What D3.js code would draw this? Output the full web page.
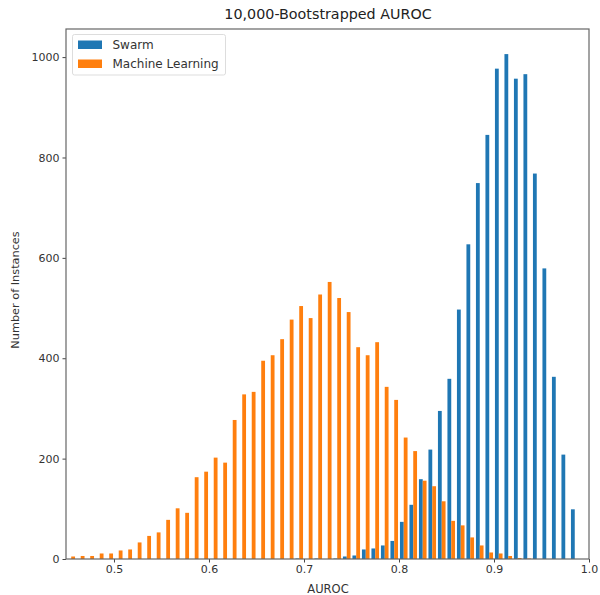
<!DOCTYPE html>
<html>
<head>
<meta charset="utf-8">
<script src="https://cdn.jsdelivr.net/npm/d3@7"></script>
<style>
  html, body { margin: 0; padding: 0; background: #fff; }
  svg { display: block; font-family: "DejaVu Sans", sans-serif; }
</style>
</head>
<body>
<svg id="chart" width="600" height="595"></svg>
<script>
// Bin left edges (AUROC), bin width 0.01
const binStarts = [0.45,0.46,0.47,0.48,0.49,0.50,0.51,0.52,0.53,0.54,0.55,0.56,0.57,0.58,0.59,
  0.60,0.61,0.62,0.63,0.64,0.65,0.66,0.67,0.68,0.69,0.70,0.71,0.72,0.73,0.74,0.75,0.76,0.77,0.78,0.79,
  0.80,0.81,0.82,0.83,0.84,0.85,0.86,0.87,0.88,0.89,0.90,0.91,0.92,0.93,0.94,0.95,0.96,0.97,0.98];
const binWidth = 0.01;
const swarmCounts = [0,0,0,0,0,0,0,0,0,0,0,0,0,0,0,
  0,0,0,0,0,0,0,0,0,1,0,1,0,1,5,7,19,21,27,36,
  74,108,159,218,295,359,497,627,749,845,977,1006,957,966,768,579,363,208,99];
const mlCounts = [5,6,6,11,11,17,19,33,46,53,78,101,92,163,174,
  202,192,277,328,333,395,406,438,477,504,480,527,552,520,492,422,406,432,343,317,
  242,215,156,145,115,76,67,43,27,13,11,6,2,1,0,0,0,0,0];
const seriesNames = ["Swarm", "Machine Learning"];
const seriesColors = ["#1f77b4", "#ff7f0e"];
const xTicks = [0.5, 0.6, 0.7, 0.8, 0.9, 1.0];
const yTicks = [0, 200, 400, 600, 800, 1000];

const svg = d3.select("#chart");
const L = 66, R = 589, T = 29, B = 559;
const x = d3.scaleLinear().domain([0.4495, 1.0]).range([L, R]);
const y = d3.scaleLinear().domain([0, 1056]).range([B, T]);

const series = [swarmCounts, mlCounts];
series.forEach((counts, si) => {
  svg.append("g").selectAll("rect")
    .data(binStarts.map((b, i) => ({b, v: counts[i]})).filter(d => d.v > 0))
    .join("rect")
    .attr("x", d => x(d.b + binWidth * (0.1 + 0.4 * si)))
    .attr("width", d => x(d.b + binWidth * 0.4) - x(d.b))
    .attr("y", d => y(d.v))
    .attr("height", d => y(0) - y(d.v))
    .attr("fill", seriesColors[si]);
});

// Axes
const xAxis = d3.axisBottom(x).tickValues(xTicks).tickFormat(d3.format(".1f")).tickSize(3.5).tickPadding(3);
const yAxis = d3.axisLeft(y).tickValues(yTicks).tickFormat(d3.format("d")).tickSize(3.5).tickPadding(3);
const gx = svg.append("g").attr("transform", `translate(0,${B})`).call(xAxis);
const gy = svg.append("g").attr("transform", `translate(${L},0)`).call(yAxis);
[gx, gy].forEach(g => {
  g.select(".domain").remove();
  g.selectAll(".tick line").attr("stroke", "#444").attr("stroke-width", 1);
  g.selectAll(".tick text").attr("fill", "#333").style("font-size", "11px").style("font-family", "DejaVu Sans");
});

// Frame
svg.append("rect").attr("x", L).attr("y", T).attr("width", R - L).attr("height", B - T)
  .attr("fill", "none").attr("stroke", "#666").attr("stroke-width", 1.2);

// Title and labels
svg.append("text").attr("x", 328).attr("y", 19).attr("text-anchor", "middle")
  .attr("fill", "#222").style("font-size", "14.3px").text("10,000-Bootstrapped AUROC");
svg.append("text").attr("x", 328).attr("y", 593).attr("text-anchor", "middle")
  .attr("fill", "#333").style("font-size", "11.5px").text("AUROC");
svg.append("text").attr("transform", `translate(19,290) rotate(-90)`).attr("text-anchor", "middle")
  .attr("fill", "#333").style("font-size", "11.3px").text("Number of Instances");

// Legend
const lg = svg.append("g");
lg.append("rect").attr("x", 72.5).attr("y", 34.5).attr("width", 153).attr("height", 40.5)
  .attr("rx", 2).attr("fill", "#fff").attr("fill-opacity", 0.8).attr("stroke", "#ddd");
seriesNames.forEach((n, i) => {
  lg.append("rect").attr("x", 78).attr("y", 40.5 + i * 19).attr("width", 24).attr("height", 8.5)
    .attr("fill", seriesColors[i]);
  lg.append("text").attr("x", 112.5).attr("y", 48.5 + i * 19).attr("fill", "#333")
    .style("font-size", "12px").text(n);
});
</script>
</body>
</html>
